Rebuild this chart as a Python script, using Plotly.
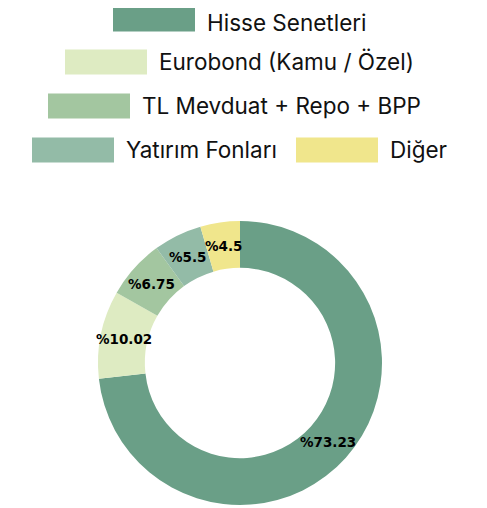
import math
import plotly.graph_objects as go

# ---- data ----
categories = ["Hisse Senetleri", "Eurobond (Kamu / Özel)", "TL Mevduat + Repo + BPP", "Yatırım Fonları", "Diğer"]
values = [73.23, 10.02, 6.75, 5.5, 4.5]
colors = ["#6a9f87", "#deebc2", "#a3c6a0", "#93bba7", "#f0e68c"]
labels_text = ["%" + str(v) for v in values]

# ---- layout (pixel geometry; page body adds an 8px offset) ----
W, H = 487, 508
OFF = 8
CX, CY, R_OUT = 240 - OFF, 363 - OFF, 142
HOLE = 0.67
# (swatch left x, row center y) for each legend item, in category order
legend_pos = [(113, 19), (65, 62), (48, 106), (32, 150), (296, 150)]
SW_W, SW_H, GAP = 82, 25, 11
LEG_FONT = 22.5
HALF_BOX = LEG_FONT * 0.65

fig = go.Figure()
fig.add_trace(go.Pie(
    labels=categories,
    values=values,
    textinfo="none",
    marker=dict(colors=colors, line=dict(width=0)),
    hole=HOLE,
    sort=False,
    direction="clockwise",
    rotation=0,
    showlegend=False,
    hoverinfo="label+value",
    domain=dict(x=[(CX - R_OUT) / W, (CX + R_OUT) / W],
                y=[1 - (CY + R_OUT) / H, 1 - (CY - R_OUT) / H]),
))

shapes, annotations = [], []

# slice labels at the middle of the ring, at each slice's mid angle
total = sum(values)
r_mid = R_OUT * (1 + HOLE) / 2
cum = 0.0
for v, t in zip(values, labels_text):
    ang = 2 * math.pi * (cum + v / 2) / total
    cum += v
    px = CX + r_mid * math.sin(ang)
    py = CY - r_mid * math.cos(ang)
    annotations.append(dict(
        text="<b>" + t + "</b>", xref="paper", yref="paper",
        x=px / W, y=1 - py / H, xanchor="center", yanchor="middle",
        showarrow=False,
        font=dict(family="DejaVu Sans", size=13.5, color="#000000"),
    ))

for cat, col, (sx, cy) in zip(categories, colors, legend_pos):
    sx -= OFF
    cy -= OFF
    shapes.append(dict(
        type="rect", xref="paper", yref="paper",
        x0=sx / W, x1=(sx + SW_W) / W,
        y0=1 - (cy + SW_H / 2) / H, y1=1 - (cy - SW_H / 2) / H,
        fillcolor=col, line=dict(width=0), layer="above",
    ))
    top = max(0.0, cy - HALF_BOX)
    annotations.append(dict(
        text=cat, xref="paper", yref="paper",
        x=(sx + SW_W + GAP) / W, y=1 - top / H,
        xanchor="left", yanchor="top", showarrow=False, borderpad=0,
        font=dict(family="Inter", size=LEG_FONT, color="#111111"),
    ))

fig.update_layout(
    width=W, height=H,
    margin=dict(l=0, r=0, t=0, b=0),
    paper_bgcolor="white", plot_bgcolor="white",
    shapes=shapes, annotations=annotations,
)

fig.write_html("out.html")
